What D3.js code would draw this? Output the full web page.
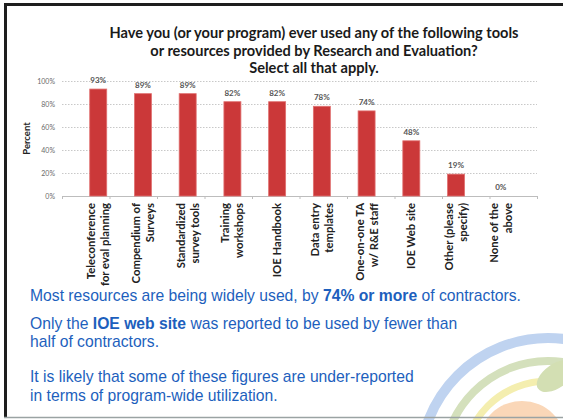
<!DOCTYPE html>
<html lang="en">
<head>
<meta charset="UTF-8">
<title>Tools and resources used</title>
<script src="https://cdnjs.cloudflare.com/ajax/libs/d3/7.8.5/d3.min.js"></script>
<style>
    body { margin: 0; background: #fff; }
    .grid line { stroke: #c8c8c8; stroke-dasharray: 1.5,1.5; }
    .grid path { display: none; }
    .y-axis text { font-family: Lato, sans-serif; font-size: 7px; fill: #6a6a6a; }
    .cat { font-family: Lato, sans-serif; font-size: 11.3px; font-weight: bold; fill: #222; }
    .val { font-family: Lato, sans-serif; font-size: 8px; font-weight: bold; fill: #555; }
    .title { font-family: Lato, sans-serif; font-size: 14.6px; font-weight: bold; fill: #1a1a1a; }
    .note { font-family: "Liberation Sans", Arial, sans-serif; font-size: 15.7px; fill: #1d5fbd; }
</style>
</head>
<body>
<script>
var categories = [
    ["Teleconference", "for eval planning"],
    ["Compendium of", "Surveys"],
    ["Standardized", "survey tools"],
    ["Training", "workshops"],
    ["IOE Handbook"],
    ["Data entry", "templates"],
    ["One-on-one TA", "w/ R&E staff"],
    ["IOE Web site"],
    ["Other (please", "specify)"],
    ["None of the", "above"]
];
var percents = [93, 89, 89, 82, 82, 78, 74, 48, 19, 0];
var yTicks = [0, 20, 40, 60, 80, 100];
var titleLines = [
    "Have you (or your program) ever used any of the following tools",
    "or resources provided by Research and Evaluation?",
    "Select all that apply."
];

var W = 563, H = 420;
var margin = { top: 81, left: 62, right: 26 };
var plotW = W - margin.left - margin.right, plotH = 115;

var svg = d3.select("body").append("svg").attr("width", W).attr("height", H);

// faint logo in the corner
var logo = svg.append("g");
logo.append("circle").attr("cx", 548).attr("cy", 466).attr("r", 128)
    .attr("fill", "none").attr("stroke", "#bfd3f0").attr("stroke-width", 10);
logo.append("circle").attr("cx", 548).attr("cy", 466).attr("r", 105)
    .attr("fill", "none").attr("stroke", "#d4e0bc").attr("stroke-width", 8);
logo.append("circle").attr("cx", 548).attr("cy", 466).attr("r", 85)
    .attr("fill", "none").attr("stroke", "#f4eeaf").attr("stroke-width", 7);
logo.append("circle").attr("cx", 522).attr("cy", 445).attr("r", 44).attr("fill", "#fad7b8");
logo.append("ellipse").attr("cx", 556).attr("cy", 376).attr("rx", 22).attr("ry", 12)
    .attr("transform", "rotate(-35,556,376)").attr("fill", "#d3dfb3");

// frame
svg.append("line").attr("x1", 5.5).attr("x2", 5.5).attr("y1", 3).attr("y2", 418)
    .attr("stroke", "#1e1e1e").attr("stroke-width", 3);
svg.append("line").attr("x1", 4).attr("x2", W).attr("y1", 4.5).attr("y2", 4.5)
    .attr("stroke", "#1e1e1e").attr("stroke-width", 3);
svg.append("line").attr("x1", 4).attr("x2", W).attr("y1", 417.5).attr("y2", 417.5)
    .attr("stroke", "#9aa3a3").attr("stroke-width", 1.5);

// title
svg.append("g").selectAll("text").data(titleLines).enter().append("text")
    .attr("class", "title")
    .attr("x", 314)
    .attr("y", function(d, i) { return 38 + i * 17.5; })
    .attr("text-anchor", "middle")
    .text(function(d) { return d; });

var g = svg.append("g").attr("transform", "translate(" + margin.left + "," + margin.top + ")");

var xScale = d3.scaleBand().domain(d3.range(categories.length)).range([0, plotW]).padding(0.62);
var yScale = d3.scaleLinear().domain([0, 100]).range([plotH, 0]);

g.append("g").attr("class", "grid")
    .call(d3.axisLeft(yScale).tickValues(yTicks).tickSize(-plotW).tickFormat(""));

g.append("g").attr("class", "y-axis")
    .call(d3.axisLeft(yScale).tickValues(yTicks).tickSize(0).tickPadding(7)
        .tickFormat(function(d) { return d + "%"; }))
    .select(".domain").remove();

// x axis with small ticks between categories
var edge = d3.scaleLinear().domain([0, categories.length]).range([0, plotW]);
var xAxis = g.append("g").attr("transform", "translate(0," + plotH + ")")
    .call(d3.axisBottom(edge).tickValues(d3.range(categories.length + 1)).tickSize(3).tickSizeOuter(0).tickFormat(""));
xAxis.selectAll("line,path").attr("stroke", "#bdbdbd");

g.selectAll(".bar").data(percents).enter().append("rect")
    .attr("class", "bar")
    .attr("x", function(d, i) { return xScale(i); })
    .attr("width", xScale.bandwidth())
    .attr("y", function(d) { return yScale(d); })
    .attr("height", function(d) { return plotH - yScale(d); })
    .attr("fill", "#cb3839")
    .attr("stroke", "#e07070")
    .attr("stroke-width", 0.8);

g.selectAll(".val").data(percents).enter().append("text")
    .attr("class", "val")
    .attr("x", function(d, i) { return xScale(i) + xScale.bandwidth() / 2; })
    .attr("y", function(d) { return yScale(d) - 6; })
    .attr("text-anchor", "middle")
    .text(function(d) { return d + "%"; });

// rotated category labels
categories.forEach(function(lines, i) {
    var cx = xScale(i) + xScale.bandwidth() / 2;
    lines.forEach(function(line, j) {
        var lx = cx + (j - (lines.length - 1) / 2) * 14;
        g.append("text").attr("class", "cat")
            .attr("transform", "translate(" + lx + "," + (plotH + 7) + ") rotate(-90)")
            .attr("text-anchor", "end")
            .attr("dy", "0.35em")
            .text(line);
    });
});

g.append("text").attr("class", "cat")
    .attr("transform", "translate(-32," + (plotH / 2) + ") rotate(-90)")
    .attr("text-anchor", "middle")
    .style("font-size", "9.5px")
    .text("Percent");

// notes under the chart
var notes = [
    { y: 301, parts: [["Most resources are being widely used, by ", false], ["74% or more", true], [" of contractors.", false]] },
    { y: 329, parts: [["Only the ", false], ["IOE web site", true], [" was reported to be used by fewer than", false]] },
    { y: 347, parts: [["half of contractors.", false]] },
    { y: 382, parts: [["It is likely that some of these figures are under-reported", false]] },
    { y: 401, parts: [["in terms of program-wide utilization.", false]] }
];
notes.forEach(function(n) {
    var t = svg.append("text").attr("class", "note").attr("x", 30).attr("y", n.y);
    n.parts.forEach(function(p) {
        t.append("tspan").style("font-weight", p[1] ? "bold" : "normal").text(p[0]);
    });
});
</script>
</body>
</html>
